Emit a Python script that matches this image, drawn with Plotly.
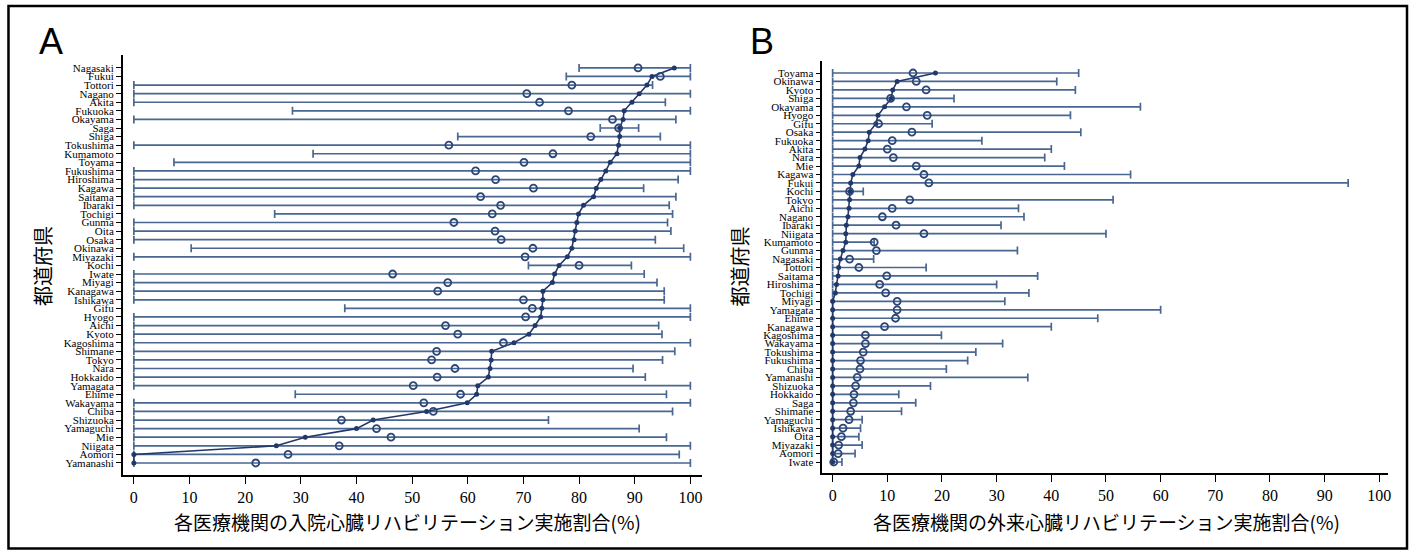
import plotly.graph_objects as go

W, H = 1415, 553

# ---------------- Panel A: inpatient ----------------
a_pref = ["Nagasaki", "Fukui", "Tottori", "Nagano", "Akita", "Fukuoka", "Okayama", "Saga", "Shiga",
          "Tokushima", "Kumamoto", "Toyama", "Fukushima", "Hiroshima", "Kagawa", "Saitama", "Ibaraki",
          "Tochigi", "Gunma", "Oita", "Osaka", "Okinawa", "Miyazaki", "Kochi", "Iwate", "Miyagi",
          "Kanagawa", "Ishikawa", "Gifu", "Hyogo", "Aichi", "Kyoto", "Kagoshima", "Shimane", "Tokyo",
          "Nara", "Hokkaido", "Yamagata", "Ehime", "Wakayama", "Chiba", "Shizuoka", "Yamaguchi", "Mie",
          "Niigata", "Aomori", "Yamanashi"]
a_median = [97.1, 93.1, 92.2, 90.8, 89.5, 88.1, 87.9, 87.3, 87.3, 87.1, 86.8, 85.6, 84.8, 83.9, 83.1,
            82.6, 80.8, 79.9, 79.6, 79.3, 79.1, 78.7, 77.9, 76.4, 75.6, 75.2, 73.5, 73.5, 73.3, 73.1,
            72.1, 71.0, 68.3, 64.3, 64.2, 64.0, 63.7, 61.8, 61.6, 59.9, 52.6, 43.0, 40.0, 30.8, 25.6,
            0.0, 0.0]
a_mean = [90.6, 94.6, 78.7, 70.6, 72.9, 78.1, 86.0, 87.1, 82.1, 56.6, 75.3, 70.1, 61.4, 65.0, 71.8,
          62.3, 65.9, 64.4, 57.5, 64.9, 66.0, 71.7, 70.3, 80.0, 46.5, 56.4, 54.6, 70.0, 71.6, 70.4,
          56.0, 58.2, 66.4, 54.4, 53.5, 57.7, 54.5, 50.2, 58.7, 52.1, 53.8, 37.3, 43.6, 46.2, 36.9,
          27.7, 21.9]
a_min = [80.0, 77.7, 0, 0, 0, 28.5, 0, 83.8, 58.2, 0, 32.2, 7.2, 0, 0, 0, 0, 0, 25.3, 0, 0, 0, 10.3,
         0, 70.9, 0, 0, 0, 0, 37.9, 0, 0, 0, 0, 0, 0, 0, 0, 0, 29.0, 0, 0, 0, 0, 0, 0, 0, 0]
a_max = [100, 100, 93.2, 100, 95.5, 100, 97.4, 90.7, 94.6, 100, 100, 100, 100, 97.8, 91.6, 97.4, 96.2,
         96.8, 95.9, 96.5, 93.7, 98.8, 100, 89.4, 91.7, 94.0, 95.3, 95.3, 100, 100, 94.3, 94.9, 100,
         97.2, 95.0, 89.7, 91.9, 100, 95.7, 100, 96.8, 74.5, 90.8, 95.7, 100, 98.0, 100]

# ---------------- Panel B: outpatient ----------------
b_pref = ["Toyama", "Okinawa", "Kyoto", "Shiga", "Okayama", "Hyogo", "Gifu", "Osaka", "Fukuoka",
          "Akita", "Nara", "Mie", "Kagawa", "Fukui", "Kochi", "Tokyo", "Aichi", "Nagano", "Ibaraki",
          "Niigata", "Kumamoto", "Gunma", "Nagasaki", "Tottori", "Saitama", "Hiroshima", "Tochigi",
          "Miyagi", "Yamagata", "Ehime", "Kanagawa", "Kagoshima", "Wakayama", "Tokushima",
          "Fukushima", "Chiba", "Yamanashi", "Shizuoka", "Hokkaido", "Saga", "Shimane", "Yamaguchi",
          "Ishikawa", "Oita", "Miyazaki", "Aomori", "Iwate"]
b_median = [18.8, 11.8, 11.0, 10.7, 9.5, 8.3, 7.9, 6.7, 6.5, 5.9, 5.0, 4.8, 3.7, 3.3, 3.2, 3.1, 3.0,
            2.8, 2.5, 2.4, 2.4, 1.9, 1.4, 1.1, 1.0, 0.7, 0.5, 0, 0, 0, 0, 0, 0, 0, 0, 0, 0, 0, 0, 0,
            0, 0, 0, 0, 0, 0, 0]
b_mean = [14.7, 15.3, 17.1, 10.6, 13.5, 17.3, 8.4, 14.5, 10.9, 10.0, 11.1, 15.3, 16.7, 17.6, 3.1,
          14.1, 10.9, 9.1, 11.6, 16.7, 7.6, 8.0, 3.1, 4.8, 9.9, 8.6, 9.7, 11.8, 11.8, 11.5, 9.5, 6.0,
          6.0, 5.6, 5.1, 5.0, 4.5, 4.2, 3.9, 3.8, 3.3, 3.0, 1.9, 1.6, 1.1, 1.0, 0.2]
b_min = [0] * 47
b_max = [45.0, 41.0, 44.4, 22.2, 56.3, 43.5, 18.2, 45.4, 27.3, 40.0, 38.8, 42.4, 54.5, 94.3, 5.6,
         51.3, 34.0, 35.0, 30.8, 50.0, 7.6, 33.8, 7.5, 17.1, 37.5, 30.0, 35.9, 31.5, 60.0, 48.5,
         40.0, 19.9, 31.1, 26.2, 24.7, 20.8, 35.7, 17.9, 12.1, 15.2, 12.6, 5.4, 5.1, 4.8, 5.4, 4.1, 1.7]

x_ticks = [0, 10, 20, 30, 40, 50, 60, 70, 80, 90, 100]
a_xtitle = "各医療機関の入院心臓リハビリテーション実施割合(%)"
b_xtitle = "各医療機関の外来心臓リハビリテーション実施割合(%)"
y_title = "都道府県"

BAR = "#4a6791"
MED = "#22386a"
MEAN = "#2c4678"

fig = go.Figure()


def add_panel(names, med, mean, mn, mx, xa, ya):
    idx = list(range(len(names)))
    mid = [(a + b) / 2 for a, b in zip(mn, mx)]
    half = [(b - a) / 2 for a, b in zip(mn, mx)]
    fig.add_trace(go.Scatter(
        x=mid, y=idx, mode="markers", xaxis=xa, yaxis=ya,
        marker=dict(size=1, opacity=0),
        error_x=dict(type="data", symmetric=True, array=half, color=BAR, thickness=1.7, width=4),
        showlegend=False, hoverinfo="skip"))
    fig.add_trace(go.Scatter(
        x=med, y=idx, mode="lines+markers", xaxis=xa, yaxis=ya,
        line=dict(color=MED, width=1.6), marker=dict(color=MED, size=5),
        showlegend=False))
    fig.add_trace(go.Scatter(
        x=mean, y=idx, mode="markers", xaxis=xa, yaxis=ya,
        marker=dict(symbol="circle-open", color=MEAN, size=7, line=dict(width=1.8, color=MEAN)),
        showlegend=False))


add_panel(a_pref, a_median, a_mean, a_min, a_max, "x", "y")
add_panel(b_pref, b_median, b_mean, b_min, b_max, "x2", "y2")


def px_x(p):
    return p / W


def px_y(p):
    return 1 - p / H


xcommon = dict(showline=True, linecolor="black", linewidth=1.5, ticks="outside", ticklen=7,
               tickcolor="black", tickwidth=1.3, tickvals=x_ticks, showgrid=False, zeroline=False,
               tickfont=dict(family="Liberation Serif", size=16, color="black"))
ycommon = dict(showline=True, linecolor="black", linewidth=1.5, ticks="outside", ticklen=5,
               tickcolor="black", tickwidth=1.2, showgrid=False, zeroline=False,
               tickfont=dict(family="Liberation Serif", size=11, color="black"))

fig.update_layout(
    width=W, height=H, margin=dict(l=0, r=0, t=0, b=0),
    paper_bgcolor="white", plot_bgcolor="white", showlegend=False,
    xaxis=dict(domain=[px_x(123), px_x(703)], range=[-2.0, 102.0], anchor="y", **xcommon),
    yaxis=dict(domain=[px_y(475), px_y(55)], range=[47.4, -1.5], anchor="x",
               tickvals=list(range(len(a_pref))), ticktext=a_pref, **ycommon),
    xaxis2=dict(domain=[px_x(824), px_x(1391)], range=[-1.9, 101.6], anchor="y2", **xcommon),
    yaxis2=dict(domain=[px_y(473), px_y(61)], range=[47.3, -1.42], anchor="x2",
                tickvals=list(range(len(b_pref))), ticktext=b_pref, **ycommon),
)

jp = "Noto Sans CJK JP"
ann = [
    dict(text="A", x=px_x(51), y=px_y(41), font=dict(family="Liberation Sans", size=36, color="black")),
    dict(text="B", x=px_x(764), y=px_y(41), font=dict(family="Liberation Sans", size=36, color="black")),
    dict(text=a_xtitle, x=px_x(408), y=px_y(521), font=dict(family=jp, size=19, color="black")),
    dict(text=b_xtitle, x=px_x(1109), y=px_y(521), font=dict(family=jp, size=19, color="black")),
    dict(text=y_title, x=px_x(42), y=px_y(266), textangle=-90, font=dict(family=jp, size=20, color="black")),
    dict(text=y_title, x=px_x(741), y=px_y(266), textangle=-90, font=dict(family=jp, size=20, color="black")),
]
for a in ann:
    fig.add_annotation(xref="paper", yref="paper", showarrow=False, xanchor="center", yanchor="middle", **a)

fig.add_shape(type="rect", xref="paper", yref="paper",
              x0=px_x(8.5), x1=px_x(1410), y0=px_y(548.5), y1=px_y(6),
              line=dict(color="black", width=2.5), fillcolor="rgba(0,0,0,0)")

fig.write_html("out.html",
               config={"displayModeBar": False},
               post_script="document.body.style.margin='0';document.body.style.padding='0';"
                           "document.body.style.overflow='hidden';")
